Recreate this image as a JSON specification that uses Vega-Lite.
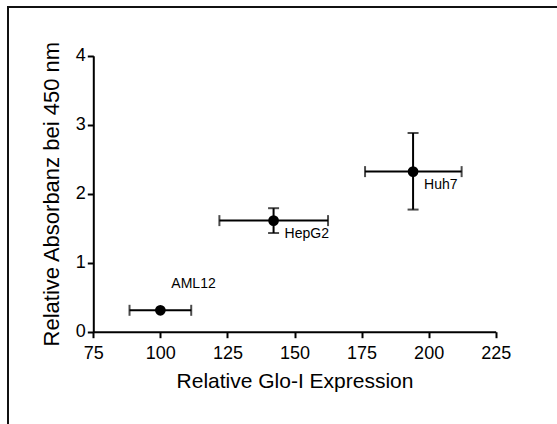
{
  "$schema": "https://vega.github.io/schema/vega-lite/v6.json",
  "autosize": {"type": "none"},
  "padding": {"left": 8, "top": 7, "right": 0, "bottom": 0},
  "width": 600,
  "height": 450,
  "background": "white",
  "config": {
    "font": "Liberation Sans",
    "view": {"stroke": "#111111", "strokeWidth": 2},
    "axis": {
      "grid": false,
      "domainColor": "black",
      "domainWidth": 2,
      "tickColor": "black",
      "tickWidth": 2,
      "tickSize": 6,
      "labelColor": "black",
      "labelFontSize": 18,
      "labelFont": "Liberation Sans",
      "titleColor": "black",
      "titleFont": "Liberation Sans",
      "titleFontSize": 21,
      "titleFontWeight": "normal"
    },
    "axisX": {"offset": -125.3, "labelPadding": 7, "titlePadding": 8, "labelFlush": false},
    "axisY": {"offset": -85.3, "labelPadding": 2, "titlePadding": 12, "titleFontSize": 22, "labelFlush": false}
  },
  "data": {
    "values": [
      {"cell": "AML12", "x": 100, "xlo": 88.5, "xhi": 111.5, "y": 0.31, "ylo": null, "yhi": null},
      {"cell": "HepG2", "x": 142.2, "xlo": 122.0, "xhi": 162.5, "y": 1.61, "ylo": 1.43, "yhi": 1.79},
      {"cell": "Huh7", "x": 194.2, "xlo": 176.3, "xhi": 212.3, "y": 2.32, "ylo": 1.77, "yhi": 2.88}
    ]
  },
  "layer": [
    {
      "mark": {"type": "rule", "color": "black", "strokeWidth": 2},
      "encoding": {
        "x": {"field": "xlo", "type": "quantitative", "title": "Relative Glo-I Expression",
              "scale": {"domain": [75, 225], "range": [85.3, 487.7], "nice": false, "zero": false},
              "axis": {"values": [75, 100, 125, 150, 175, 200, 225], "format": "d"}},
        "x2": {"field": "xhi"},
        "y": {"field": "y", "type": "quantitative", "title": "Relative Absorbanz bei 450 nm",
              "scale": {"domain": [0, 4], "range": [324.7, 48.7], "nice": false, "zero": false},
              "axis": {"values": [0, 1, 2, 3, 4], "format": "d"}}
      }
    },
    {
      "transform": [{"filter": "datum.ylo != null"}],
      "mark": {"type": "rule", "color": "black", "strokeWidth": 2},
      "encoding": {
        "x": {"field": "x", "type": "quantitative", "title": "Relative Glo-I Expression"},
        "y": {"field": "ylo", "type": "quantitative", "title": "Relative Absorbanz bei 450 nm"},
        "y2": {"field": "yhi"}
      }
    },
    {
      "mark": {"type": "tick", "orient": "vertical", "color": "black", "size": 11, "thickness": 2},
      "encoding": {
        "x": {"field": "xlo", "type": "quantitative", "title": "Relative Glo-I Expression"},
        "y": {"field": "y", "type": "quantitative", "title": "Relative Absorbanz bei 450 nm"}
      }
    },
    {
      "mark": {"type": "tick", "orient": "vertical", "color": "black", "size": 11, "thickness": 2},
      "encoding": {
        "x": {"field": "xhi", "type": "quantitative", "title": "Relative Glo-I Expression"},
        "y": {"field": "y", "type": "quantitative", "title": "Relative Absorbanz bei 450 nm"}
      }
    },
    {
      "transform": [{"filter": "datum.ylo != null"}],
      "mark": {"type": "tick", "orient": "horizontal", "color": "black", "size": 11, "thickness": 2},
      "encoding": {
        "x": {"field": "x", "type": "quantitative", "title": "Relative Glo-I Expression"},
        "y": {"field": "ylo", "type": "quantitative", "title": "Relative Absorbanz bei 450 nm"}
      }
    },
    {
      "transform": [{"filter": "datum.yhi != null"}],
      "mark": {"type": "tick", "orient": "horizontal", "color": "black", "size": 11, "thickness": 2},
      "encoding": {
        "x": {"field": "x", "type": "quantitative", "title": "Relative Glo-I Expression"},
        "y": {"field": "yhi", "type": "quantitative", "title": "Relative Absorbanz bei 450 nm"}
      }
    },
    {
      "mark": {"type": "circle", "color": "black", "opacity": 1, "size": 115},
      "encoding": {
        "x": {"field": "x", "type": "quantitative", "title": "Relative Glo-I Expression"},
        "y": {"field": "y", "type": "quantitative", "title": "Relative Absorbanz bei 450 nm"}
      }
    },
    {
      "transform": [{"filter": "datum.cell == 'AML12'"}],
      "mark": {"type": "text", "align": "left", "baseline": "middle", "dx": 11, "dy": -26, "fontSize": 14, "color": "black"},
      "encoding": {
        "x": {"field": "x", "type": "quantitative", "title": "Relative Glo-I Expression"},
        "y": {"field": "y", "type": "quantitative", "title": "Relative Absorbanz bei 450 nm"},
        "text": {"field": "cell"}
      }
    },
    {
      "transform": [{"filter": "datum.cell != 'AML12'"}],
      "mark": {"type": "text", "align": "left", "baseline": "middle", "dx": 11, "dy": 13, "fontSize": 14, "color": "black"},
      "encoding": {
        "x": {"field": "x", "type": "quantitative", "title": "Relative Glo-I Expression"},
        "y": {"field": "y", "type": "quantitative", "title": "Relative Absorbanz bei 450 nm"},
        "text": {"field": "cell"}
      }
    }
  ]
}
